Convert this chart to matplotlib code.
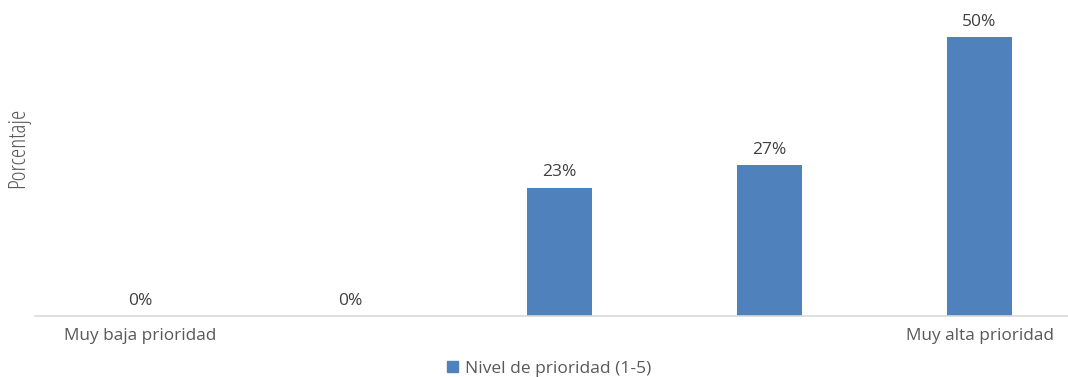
import matplotlib
matplotlib.use("Agg")
import matplotlib.pyplot as plt
from matplotlib.patches import Patch

categories = ["Muy baja prioridad", "", "", "", "Muy alta prioridad"]
values = [0, 0, 23, 27, 50]
labels = ["0%", "0%", "23%", "27%", "50%"]
series_name = "Nivel de prioridad (1-5)"

W, H = 1068, 377
fig = plt.figure(figsize=(W / 100, H / 100), dpi=100)
plt.rcParams['font.family'] = ['Open Sans', 'DejaVu Sans']

left_px, right_px, bottom_px, top_px = 35, 1068, 316, 20
ax = fig.add_axes([left_px / W, 1 - bottom_px / H, (right_px - left_px) / W, (bottom_px - top_px) / H])

color = "#4F81BD"
x = list(range(len(values)))
bars = ax.bar(x, values, width=0.31, color=color)

ax.set_xlim(-0.5, 4.5 - (1084.5 - 1068) / 210)
ax.set_ylim(0, 50 * (bottom_px - top_px) / (bottom_px - 37))

for xi, v, lab in zip(x, values, labels):
    ax.annotate(lab, (xi, v), xytext=(0, 11), textcoords="offset points",
                ha="center", va="center", fontsize=12.5, color="#404040")

for s in ["top", "right", "left"]:
    ax.spines[s].set_visible(False)
ax.spines["bottom"].set_color("#D9D9D9")
ax.spines["bottom"].set_linewidth(1.2)
ax.set_yticks([])
ax.set_xticks(x)
ax.set_xticklabels(categories, fontsize=12.4, color="#595959")
ax.tick_params(axis="x", length=0, pad=9)

fig.text(18 / W, 1 - 148 / H, "Porcentaje", rotation=90, ha="center", va="center",
         fontsize=17, color="#595959", fontstretch="condensed")

fig.legend(handles=[Patch(color=color, label=series_name)], loc="center",
           bbox_to_anchor=(549 / W, 1 - 369 / H), frameon=False, fontsize=12.5,
           handlelength=0.6, handleheight=0.6, handletextpad=0.4, labelcolor="#595959")

fig.savefig("out.png", dpi=100)
